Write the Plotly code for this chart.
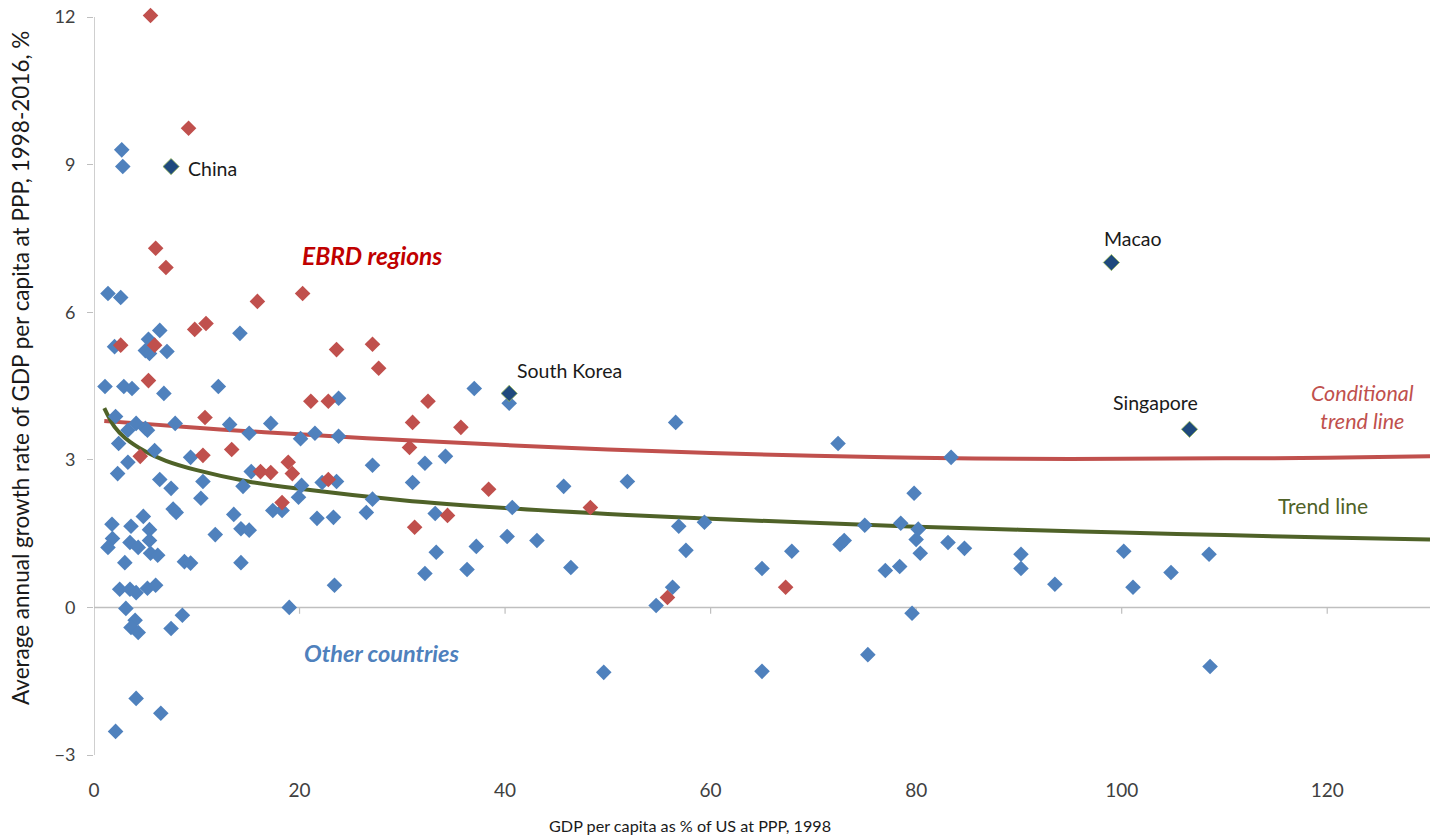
import plotly.graph_objects as go

# ---- data ----
other_x = [2.7, 2.8, 1.36, 2.6, 6.4, 14.2, 2.0, 5.3, 5.0, 5.4, 7.1, 1.07, 2.9, 3.7, 6.8, 12.1,
           2.1, 3.3, 4.1, 5.0, 5.2, 7.9, 13.2, 15.1, 17.2, 5.9, 3.3, 9.4, 2.4, 2.3, 6.4, 7.5,
           10.6, 15.3, 14.5, 10.4,
           7.7, 8.0, 4.8, 1.75, 3.6, 5.4, 1.8, 1.36, 3.5, 4.3, 5.4, 5.5, 6.2, 3.0, 8.8, 9.4,
           11.8, 13.6, 14.3, 15.1, 14.3, 17.4, 18.3, 2.5, 3.5, 4.1, 5.2, 6.0, 3.1, 4.0, 3.6,
           4.3, 8.6, 7.5, 4.1, 6.5, 2.1, 19.0,
           37.0, 40.4, 23.8, 20.1, 21.5, 23.8, 27.1, 32.2, 34.2, 20.2, 22.2, 23.6, 31.0, 45.7,
           40.7, 33.2, 19.9, 27.1, 26.5, 21.7, 23.3,
           33.3, 37.2, 40.2, 43.1, 32.2, 36.3, 46.4, 23.4, 49.6,
           56.6, 72.4, 83.4, 51.9, 79.8, 56.9, 59.4, 75.0, 78.5, 80.2, 57.6, 67.9, 72.6, 73.0,
           80.0, 80.4, 83.1, 84.7, 65.0, 77.0, 78.4, 56.3, 54.7, 79.6, 65.0, 75.3,
           90.2, 90.2, 93.5, 100.2, 101.1, 104.8, 108.5, 108.6]
other_y = [9.30, 8.96, 6.38, 6.30, 5.63, 5.57, 5.30, 5.45, 5.22, 5.16, 5.20, 4.49, 4.49, 4.45, 4.35, 4.49,
           3.88, 3.60, 3.74, 3.64, 3.60, 3.74, 3.72, 3.54, 3.74, 3.19, 2.95, 3.05, 3.33, 2.72, 2.60, 2.42,
           2.56, 2.76, 2.46, 2.22,
           2.00, 1.93, 1.85, 1.69, 1.65, 1.58, 1.40, 1.22, 1.32, 1.22, 1.36, 1.10, 1.06, 0.91, 0.93, 0.90,
           1.48, 1.89, 1.60, 1.57, 0.91, 1.97, 1.97, 0.37, 0.37, 0.30, 0.39, 0.45, -0.02, -0.26, -0.41,
           -0.51, -0.16, -0.43, -1.85, -2.15, -2.52, 0.00,
           4.45, 4.15, 4.25, 3.43, 3.54, 3.48, 2.89, 2.93, 3.07, 2.48, 2.54, 2.56, 2.54, 2.46,
           2.03, 1.91, 2.24, 2.20, 1.93, 1.81, 1.83,
           1.12, 1.24, 1.44, 1.36, 0.69, 0.77, 0.81, 0.45, -1.32,
           3.76, 3.33, 3.05, 2.56, 2.32, 1.65, 1.73, 1.67, 1.71, 1.59, 1.16, 1.14, 1.28, 1.36,
           1.38, 1.10, 1.32, 1.20, 0.79, 0.75, 0.83, 0.41, 0.04, -0.12, -1.30, -0.96,
           1.08, 0.79, 0.47, 1.14, 0.41, 0.71, 1.08, -1.20]

ebrd_x = [5.5, 9.2, 6.0, 7.0, 15.9, 9.8, 10.9, 2.6, 5.9, 5.3, 10.8, 13.4, 4.5, 10.6, 16.2, 17.2,
          18.3, 20.3, 23.6, 27.1, 27.7, 21.1, 22.8, 32.5, 31.0, 35.7, 30.7, 18.9, 19.3, 22.8,
          38.4, 48.3, 34.4, 31.2, 55.8, 67.3]
ebrd_y = [12.03, 9.74, 7.30, 6.91, 6.22, 5.65, 5.77, 5.33, 5.33, 4.61, 3.86, 3.21, 3.07, 3.09, 2.76, 2.74,
          2.13, 6.38, 5.24, 5.35, 4.86, 4.19, 4.19, 4.19, 3.76, 3.66, 3.25, 2.95, 2.72, 2.60,
          2.40, 2.03, 1.87, 1.63, 0.20, 0.41]

named = ["China", "South Korea", "Macao", "Singapore"]
named_x = [7.5, 40.4, 99.0, 106.6]
named_y = [8.96, 4.35, 7.01, 3.62]

trend_x = [1, 2, 3, 5, 7, 10, 15, 20, 30, 40, 50, 60, 70, 80, 90, 100, 110, 120, 130]
trend_y = [4.05, 3.67, 3.45, 3.17, 2.98, 2.79, 2.56, 2.41, 2.18, 2.02, 1.90, 1.80, 1.72, 1.64,
           1.58, 1.52, 1.47, 1.42, 1.38]

cond_x = [1, 5, 10, 15, 20, 30, 40, 50, 60, 70, 80, 90, 100, 110, 120, 130]
cond_y = [3.79, 3.73, 3.65, 3.58, 3.52, 3.40, 3.30, 3.21, 3.14, 3.08, 3.04, 3.02, 3.02, 3.03, 3.04, 3.07]

x_ticks = [0, 20, 40, 60, 80, 100, 120]
y_ticks = [-3, 0, 3, 6, 9, 12]

# ---- styles ----
BLUE = "#4F81BD"
RED = "#C0504D"
NAVY = "#1F497D"
OLIVE = "#4F6228"
AXIS = "#BFBFBF"
FONT = "Lato"

fig = go.Figure()

fig.add_trace(go.Scatter(x=cond_x, y=cond_y, mode="lines", line=dict(color=RED, width=4, shape="spline"),
                         hoverinfo="skip", showlegend=False))
fig.add_trace(go.Scatter(x=trend_x, y=trend_y, mode="lines", line=dict(color=OLIVE, width=4, shape="spline"),
                         hoverinfo="skip", showlegend=False))

fig.add_trace(go.Scatter(x=other_x, y=other_y, mode="markers",
                         marker=dict(symbol="diamond", size=12, color=BLUE, line=dict(width=0)),
                         cliponaxis=False, showlegend=False))
fig.add_trace(go.Scatter(x=ebrd_x, y=ebrd_y, mode="markers",
                         marker=dict(symbol="diamond", size=12, color=RED, line=dict(width=0)),
                         cliponaxis=False, showlegend=False))
fig.add_trace(go.Scatter(x=named_x, y=named_y, mode="markers", text=named,
                         marker=dict(symbol="diamond", size=12.5, color=NAVY, line=dict(width=0.8, color="#9BBB59")),
                         cliponaxis=False, showlegend=False))

# y axis line from -3 to 12
fig.add_shape(type="line", xref="x", yref="y", x0=0, x1=0, y0=y_ticks[0], y1=y_ticks[-1],
              line=dict(color=AXIS, width=1.5), layer="below")
# x axis line at y = 0 with tick marks
fig.add_shape(type="line", xref="x", yref="y", x0=0, x1=130, y0=0, y1=0,
              line=dict(color=AXIS, width=1.5), layer="below")
for t in x_ticks[1:]:
    fig.add_shape(type="line", xref="x", yref="y", x0=t, x1=t, y0=0, y1=-0.13,
                  line=dict(color=AXIS, width=1.2), layer="below")

# body margin is removed by the post script, so the figure sits at the page origin
W, H = 1430, 836
ML, MT, MB = 94, 10, 81
PW, PH = W - ML, H - MT - MB
Y_TOP = 12 + 7 / 49.2

annos = []
label_pos = {"China": (9.0, 8.92), "South Korea": (41.0, 4.82), "Macao": (98.1, 7.5), "Singapore": (99.0, 4.17)}
for n in named:
    x, y = label_pos[n]
    annos.append(dict(x=x, y=y, xref="x", yref="y", text=n, showarrow=False, xanchor="left",
                      yanchor="middle", font=dict(family=FONT, size=19.5, color="#1a1a1a")))

annos += [
    dict(x=20.0, y=7.15, xref="x", yref="y", text="<b><i>EBRD regions</i></b>", showarrow=False,
         xanchor="left", yanchor="middle", font=dict(family=FONT, size=24.5, color="#C00000")),
    dict(x=20.2, y=-0.93, xref="x", yref="y", text="<b><i>Other countries</i></b>", showarrow=False,
         xanchor="left", yanchor="middle", font=dict(family=FONT, size=23.5, color=BLUE)),
    dict(x=123.4, y=4.07, xref="x", yref="y", text="<i>Conditional<br>trend line</i>", showarrow=False,
         xanchor="center", yanchor="middle", align="center",
         font=dict(family=FONT, size=21.5, color=RED)),
    dict(x=119.6, y=2.07, xref="x", yref="y", text="Trend line", showarrow=False,
         xanchor="center", yanchor="middle", font=dict(family=FONT, size=21, color=OLIVE)),
    dict(x=(690 - 94) / PW, y=-(825 - 755) / PH, xref="paper", yref="paper",
         text="GDP per capita as % of US at PPP, 1998", showarrow=False, xanchor="center", yanchor="middle",
         font=dict(family=FONT, size=16.2, color="#1a1a1a")),
    dict(x=-(94 - 20) / PW, y=(755 - 368) / PH, xref="paper", yref="paper",
         text="Average annual growth rate of GDP per capita at PPP, 1998-2016, %", showarrow=False,
         textangle=-90, xanchor="center", yanchor="middle",
         font=dict(family=FONT, size=22.5, color="#1a1a1a")),
]

fig.update_layout(
    width=W, height=H,
    margin=dict(l=ML, r=0, t=MT, b=MB, autoexpand=False),
    plot_bgcolor="white", paper_bgcolor="white",
    annotations=annos,
    xaxis=dict(range=[0, 130], tickvals=x_ticks, showgrid=False, zeroline=False, showline=False,
               ticks="", ticklabelstandoff=22, ticklabeloverflow="allow",
               tickfont=dict(family=FONT, size=19, color="#404040")),
    yaxis=dict(range=[y_ticks[0], Y_TOP], tickvals=y_ticks, showgrid=False, zeroline=False, showline=False,
               ticks="outside", ticklen=6, tickcolor=AXIS, tickwidth=1.2,
               ticklabelstandoff=8, ticklabeloverflow="allow",
               tickfont=dict(family=FONT, size=18, color="#404040")),
)

fig.write_html("out.html", config={"displayModeBar": False},
               post_script="document.body.style.margin='0';")
